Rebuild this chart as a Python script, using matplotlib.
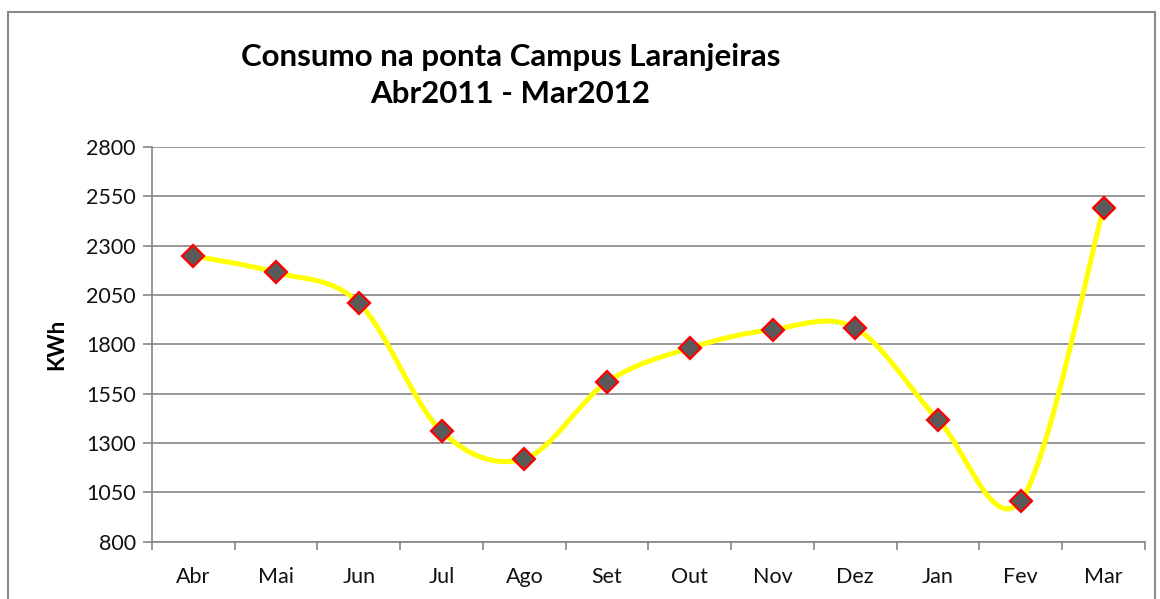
import matplotlib
matplotlib.use("Agg")
import matplotlib.pyplot as plt
from matplotlib.path import Path
from matplotlib.patches import PathPatch, Rectangle

# monthly peak consumption, Apr 2011 - Mar 2012
months = ["Abr", "Mai", "Jun", "Jul", "Ago", "Set", "Out", "Nov", "Dez", "Jan", "Fev", "Mar"]
kwh = [2248, 2164, 2009, 1359, 1220, 1609, 1781, 1875, 1882, 1418, 1008, 2490]
yticks = [800, 1050, 1300, 1550, 1800, 2050, 2300, 2550, 2800]

FONT = ["Lato", "DejaVu Sans"]
GRID = "#868686"

fig = plt.figure(figsize=(11.6, 5.99), dpi=100)
ax = fig.add_axes([0.131, 0.0957, 0.856, 0.659])

# outer chart frame like the Excel chart area
fig.patches.append(Rectangle((8 / 1160, -0.1), 1147 / 1160, 1.1 - 12 / 599,
                             transform=fig.transFigure, fill=False,
                             edgecolor="#8a8a8a", lw=1.5))

x = list(range(len(months)))

# Excel style smoothed line: cubic bezier with catmull-rom control points
verts = [(x[0], kwh[0])]
codes = [Path.MOVETO]
n = len(x)
for i in range(n - 1):
    p0 = (x[max(i - 1, 0)], kwh[max(i - 1, 0)])
    p1 = (x[i], kwh[i])
    p2 = (x[i + 1], kwh[i + 1])
    p3 = (x[min(i + 2, n - 1)], kwh[min(i + 2, n - 1)])
    c1 = (p1[0] + (p2[0] - p0[0]) / 6, p1[1] + (p2[1] - p0[1]) / 6)
    c2 = (p2[0] - (p3[0] - p1[0]) / 6, p2[1] - (p3[1] - p1[1]) / 6)
    verts += [c1, c2, p2]
    codes += [Path.CURVE4] * 3
ax.add_patch(PathPatch(Path(verts, codes), fill=False, edgecolor="#FFFF00",
                       lw=3.6, capstyle="round", zorder=3))

ax.plot(x, kwh, linestyle="none", marker="D", markersize=11.5,
        markerfacecolor="#5a5a5a", markeredgecolor="#ff0000",
        markeredgewidth=1.6, zorder=4)

ax.set_xlim(-0.5, n - 0.5)
ax.set_ylim(800, 2800)
ax.set_yticks(yticks)
ax.set_xticks(x)
ax.set_xticklabels(months)
ax.set_xticks([i - 0.5 for i in range(n + 1)], minor=True)

ax.grid(axis="y", color=GRID, lw=1.2)
ax.set_axisbelow(True)
for s in ["top", "right"]:
    ax.spines[s].set_visible(False)
for s in ["left", "bottom"]:
    ax.spines[s].set_color(GRID)
    ax.spines[s].set_linewidth(1.2)

ax.tick_params(axis="y", length=6.5, width=1.2, color=GRID, pad=5,
               labelsize=15.5)
ax.tick_params(axis="x", which="major", length=0, pad=18, labelsize=15.5)
ax.tick_params(axis="x", which="minor", length=6, width=1.2, color=GRID)
for lab in ax.get_xticklabels() + ax.get_yticklabels():
    lab.set_family(FONT)
    lab.set_color("#111111")

ax.set_ylabel("KWh", family=FONT, fontweight="bold", fontsize=16, labelpad=14)

fig.text(0.44, 0.874, "Consumo na ponta Campus Laranjeiras\nAbr2011 - Mar2012",
         ha="center", va="center", family=FONT, fontweight="bold",
         fontsize=22.5, linespacing=1.38)

fig.savefig("out.png", dpi=100)
